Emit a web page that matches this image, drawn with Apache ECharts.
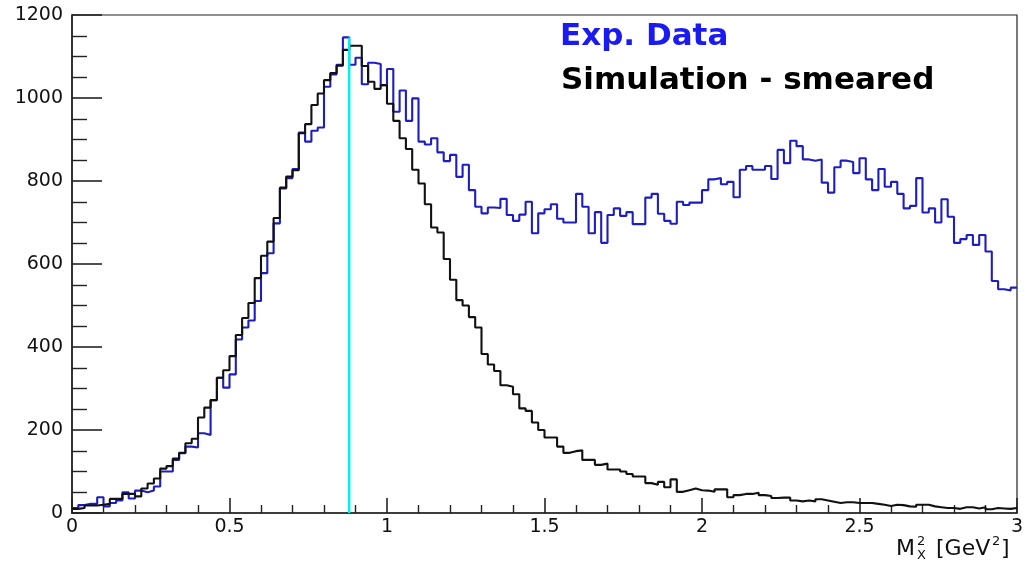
<!DOCTYPE html>
<html>
<head>
<meta charset="utf-8">
<script src="https://cdn.jsdelivr.net/npm/echarts@6/dist/echarts.min.js"></script>
<style>
  html, body { margin: 0; padding: 0; background: #fff; }
  #chart { width: 1027px; height: 563px; }
</style>
</head>
<body>
<div id="chart"></div>
<script>
// Histogram binning: 150 bins of width 0.02 GeV^2 from 0 to 3
const binStart = 0;
const binWidth = 0.02;

// Exp. Data (blue)
const expData = [
  12, 19, 22, 22, 38, 16, 24, 30, 50, 35,
  54, 50, 54, 64, 100, 100, 128, 144, 160, 158,
  192, 188, 272, 326, 302, 334, 418, 447, 464, 511,
  578, 626, 698, 782, 807, 829, 917, 895, 921, 929,
  1027, 1057, 1080, 1146, 1080, 1097, 1033, 1085, 1082, 1031,
  1070, 967, 1018, 945, 999, 895, 888, 903, 869, 848,
  863, 810, 839, 778, 738, 722, 736, 735, 757, 718,
  704, 719, 750, 674, 722, 732, 744, 709, 700, 700,
  769, 738, 674, 725, 651, 718, 734, 716, 725, 696,
  696, 760, 769, 721, 704, 697, 750, 742, 748, 748,
  778, 804, 807, 792, 798, 761, 827, 836, 827, 827,
  836, 805, 875, 843, 897, 884, 852, 849, 852, 796,
  772, 833, 849, 846, 819, 855, 804, 778, 829, 786,
  798, 769, 734, 740, 807, 724, 734, 700, 756, 714,
  651, 660, 670, 646, 670, 630, 559, 539, 536, 543
];

// Simulation - smeared (black)
const simSmeared = [
  10, 12, 18, 18, 20, 22, 34, 34, 46, 46,
  40, 59, 71, 83, 107, 113, 131, 145, 168, 179,
  230, 254, 272, 326, 344, 378, 429, 470, 506, 566,
  620, 654, 711, 784, 811, 826, 915, 937, 983, 1011,
  1043, 1060, 1078, 1116, 1126, 1126, 1077, 1039, 1022, 1031,
  986, 945, 903, 877, 827, 794, 744, 688, 676, 612,
  562, 513, 500, 472, 447, 383, 358, 342, 308, 304,
  286, 252, 246, 218, 200, 182, 182, 160, 145, 149,
  151, 128, 128, 116, 119, 105, 105, 100, 94, 88,
  88, 72, 68, 75, 62, 81, 51, 55, 59, 55,
  54, 51, 57, 57, 38, 43, 46, 46, 49, 43,
  41, 36, 37, 37, 30, 28, 30, 28, 33, 30,
  27, 24, 26, 26, 24, 24, 24, 22, 20, 17,
  20, 19, 16, 15, 20, 20, 16, 14, 12, 12,
  10, 14, 14, 11, 14, 9, 12, 11, 10, 12
];

// Vertical marker (proton mass squared) and its height
const markerX = 0.88;
const markerTop = 1146;

// Axis ranges / ticks
const xRange = [0, 3];
const xInterval = 0.5;
const yRange = [0, 1200];
const yInterval = 200;

const legendTexts = ['Exp. Data', 'Simulation - smeared'];

function toSteps(vals) {
  const pts = vals.map((v, i) => [+(binStart + i * binWidth).toFixed(4), v]);
  pts.push([+(binStart + vals.length * binWidth).toFixed(4), vals[vals.length - 1]]);
  return pts;
}

const FONT = 'DejaVu Sans';
const chart = echarts.init(document.getElementById('chart'), null, { renderer: 'canvas' });

const option = {
  animation: false,
  backgroundColor: '#ffffff',
  grid: {
    left: 72, right: 10, top: 15, bottom: 50,
    show: true, borderColor: '#222', borderWidth: 1.2, backgroundColor: 'transparent'
  },
  xAxis: {
    type: 'value', min: xRange[0], max: xRange[1], interval: xInterval,
    axisLine: { show: true, onZero: false, lineStyle: { color: '#222', width: 1.6 } },
    axisTick: { show: true, inside: true, length: 15, lineStyle: { color: '#222', width: 1.6 } },
    minorTick: { show: true, splitNumber: 5, length: 8, lineStyle: { color: '#222', width: 1.4 } },
    splitLine: { show: false },
    axisLabel: { color: '#111', fontFamily: FONT, fontSize: 19, margin: 5,
      formatter: v => String(v) }
  },
  yAxis: {
    type: 'value', min: yRange[0], max: yRange[1], interval: yInterval,
    axisLine: { show: true, lineStyle: { color: '#222', width: 1.6 } },
    axisTick: { show: true, inside: true, length: 30, lineStyle: { color: '#222', width: 1.6 } },
    minorTick: { show: true, splitNumber: 4, length: 15, lineStyle: { color: '#222', width: 1.4 } },
    splitLine: { show: false },
    axisLabel: { color: '#111', fontFamily: FONT, fontSize: 19, margin: 9,
      formatter: v => String(v) }
  },
  series: [
    {
      name: legendTexts[0], type: 'line', step: 'end', data: toSteps(expData),
      showSymbol: false, lineStyle: { color: '#1e1ec0', width: 2.1 }, z: 2
    },
    {
      name: legendTexts[1], type: 'line', step: 'end', data: toSteps(simSmeared),
      showSymbol: false, lineStyle: { color: '#111', width: 2.1 }, z: 3
    },
    {
      name: 'marker', type: 'line', data: [[markerX, 0], [markerX, markerTop]],
      showSymbol: false, lineStyle: { color: '#00f0f0', width: 2.4 }, z: 4
    }
  ],
  graphic: [
    { type: 'text', left: 560, top: 21, style: { text: legendTexts[0], fill: '#1a1af2', font: 'bold 31px "DejaVu Sans"' } },
    { type: 'text', left: 561, top: 65, style: { text: legendTexts[1], fill: '#000', font: 'bold 31px "DejaVu Sans"' } },
    { type: 'text', left: 896, top: 538, style: { text: 'M', fill: '#111', font: '22px "DejaVu Sans"' } },
    { type: 'text', left: 917, top: 535, style: { text: '2', fill: '#111', font: '13px "DejaVu Sans"' } },
    { type: 'text', left: 917, top: 549, style: { text: 'X', fill: '#111', font: '13px "DejaVu Sans"' } },
    { type: 'text', left: 936, top: 538, style: { text: '[GeV', fill: '#111', font: '22px "DejaVu Sans"' } },
    { type: 'text', left: 992, top: 535, style: { text: '2', fill: '#111', font: '13px "DejaVu Sans"' } },
    { type: 'text', left: 1001, top: 538, style: { text: ']', fill: '#111', font: '22px "DejaVu Sans"' } }
  ]
};
chart.setOption(option);
</script>
</body>
</html>
